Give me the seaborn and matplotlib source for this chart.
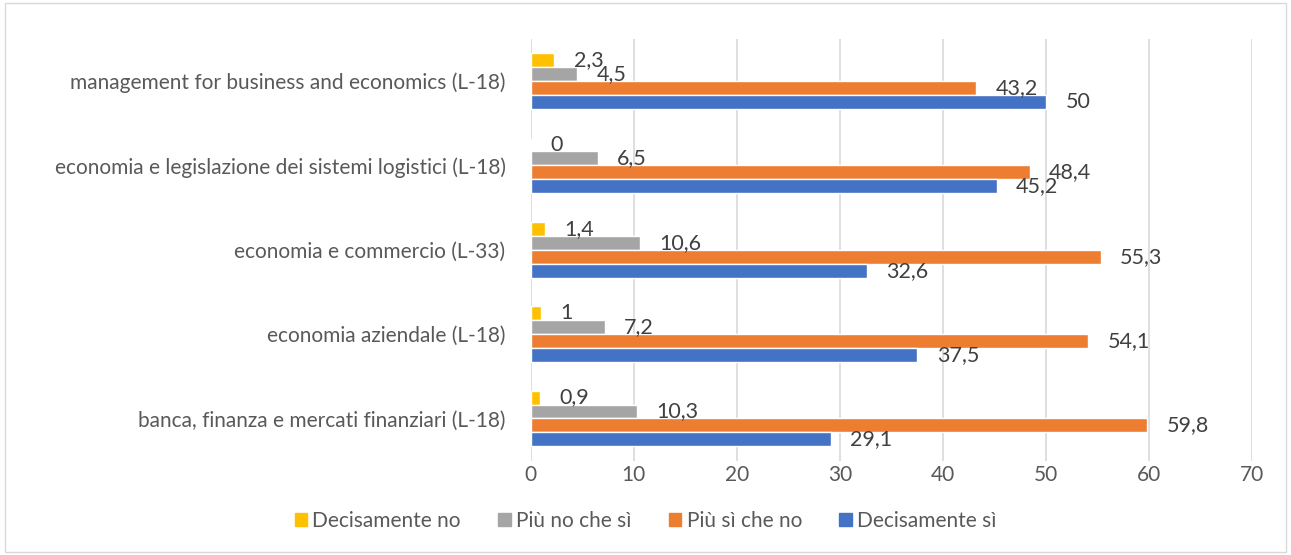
import matplotlib
matplotlib.use("Agg")
import matplotlib.pyplot as plt
import matplotlib.patches as mpatches
import pandas as pd
import seaborn as sns

courses = [
    "management for business and economics (L-18)",
    "economia e legislazione dei sistemi logistici (L-18)",
    "economia e commercio (L-33)",
    "economia aziendale (L-18)",
    "banca, finanza e mercati finanziari (L-18)",
]
answers = ["Decisamente no", "Più no che sì", "Più sì che no", "Decisamente sì"]
decisamente_no = [2.3, 0, 1.4, 1, 0.9]
piu_no = [4.5, 6.5, 10.6, 7.2, 10.3]
piu_si = [43.2, 48.4, 55.3, 54.1, 59.8]
decisamente_si = [50, 45.2, 32.6, 37.5, 29.1]
colors = ["#FFC000", "#A5A5A5", "#ED7D31", "#4472C4"]

series = [decisamente_no, piu_no, piu_si, decisamente_si]
rows = []
for ans, vals in zip(answers, series):
    for c, v in zip(courses, vals):
        rows.append({"corso": c, "risposta": ans, "valore": v})
df = pd.DataFrame(rows)

sns.set_style("white")
plt.rcParams["font.family"] = ["Lato", "DejaVu Sans"]

fig, ax = plt.subplots(figsize=(12.91, 5.55), dpi=100)
fig.subplots_adjust(left=0.411, right=0.970, top=0.93, bottom=0.17)

sns.barplot(data=df, x="valore", y="corso", hue="risposta", order=courses,
            hue_order=answers, palette=colors, orient="h", width=0.66,
            ax=ax, legend=False, saturation=1)

for cont, vals in zip(ax.containers, series):
    ax.bar_label(cont, labels=[f"{v:g}".replace(".", ",") for v in vals],
                 padding=14, fontsize=15.5, color="#404040")

ax.set_xlim(0, 70)
ax.set_xticks(range(0, 71, 10))
ax.xaxis.grid(True, color="#D9D9D9", linewidth=1.2)
ax.set_axisbelow(True)
for s in ax.spines.values():
    s.set_visible(False)
ax.set_xlabel("")
ax.set_ylabel("")
ax.tick_params(axis="both", length=0, labelsize=15, labelcolor="#595959")
ax.tick_params(axis="x", pad=3)
ax.tick_params(axis="y", pad=18)

handles = [mpatches.Patch(color=c, label=a) for c, a in zip(colors, answers)]
fig.legend(handles=handles, loc="lower center", ncol=4, frameon=False,
           bbox_to_anchor=(0.5, 0.01), fontsize=15, handlelength=0.6,
           handleheight=0.6, handletextpad=0.25, columnspacing=1.8,
           labelcolor="#595959")

fig.patches.append(mpatches.Rectangle((0.004, 0.006), 0.992, 0.988,
                                      transform=fig.transFigure, fill=False,
                                      edgecolor="#D9D9D9", linewidth=1))

fig.savefig("out.png", dpi=100)
